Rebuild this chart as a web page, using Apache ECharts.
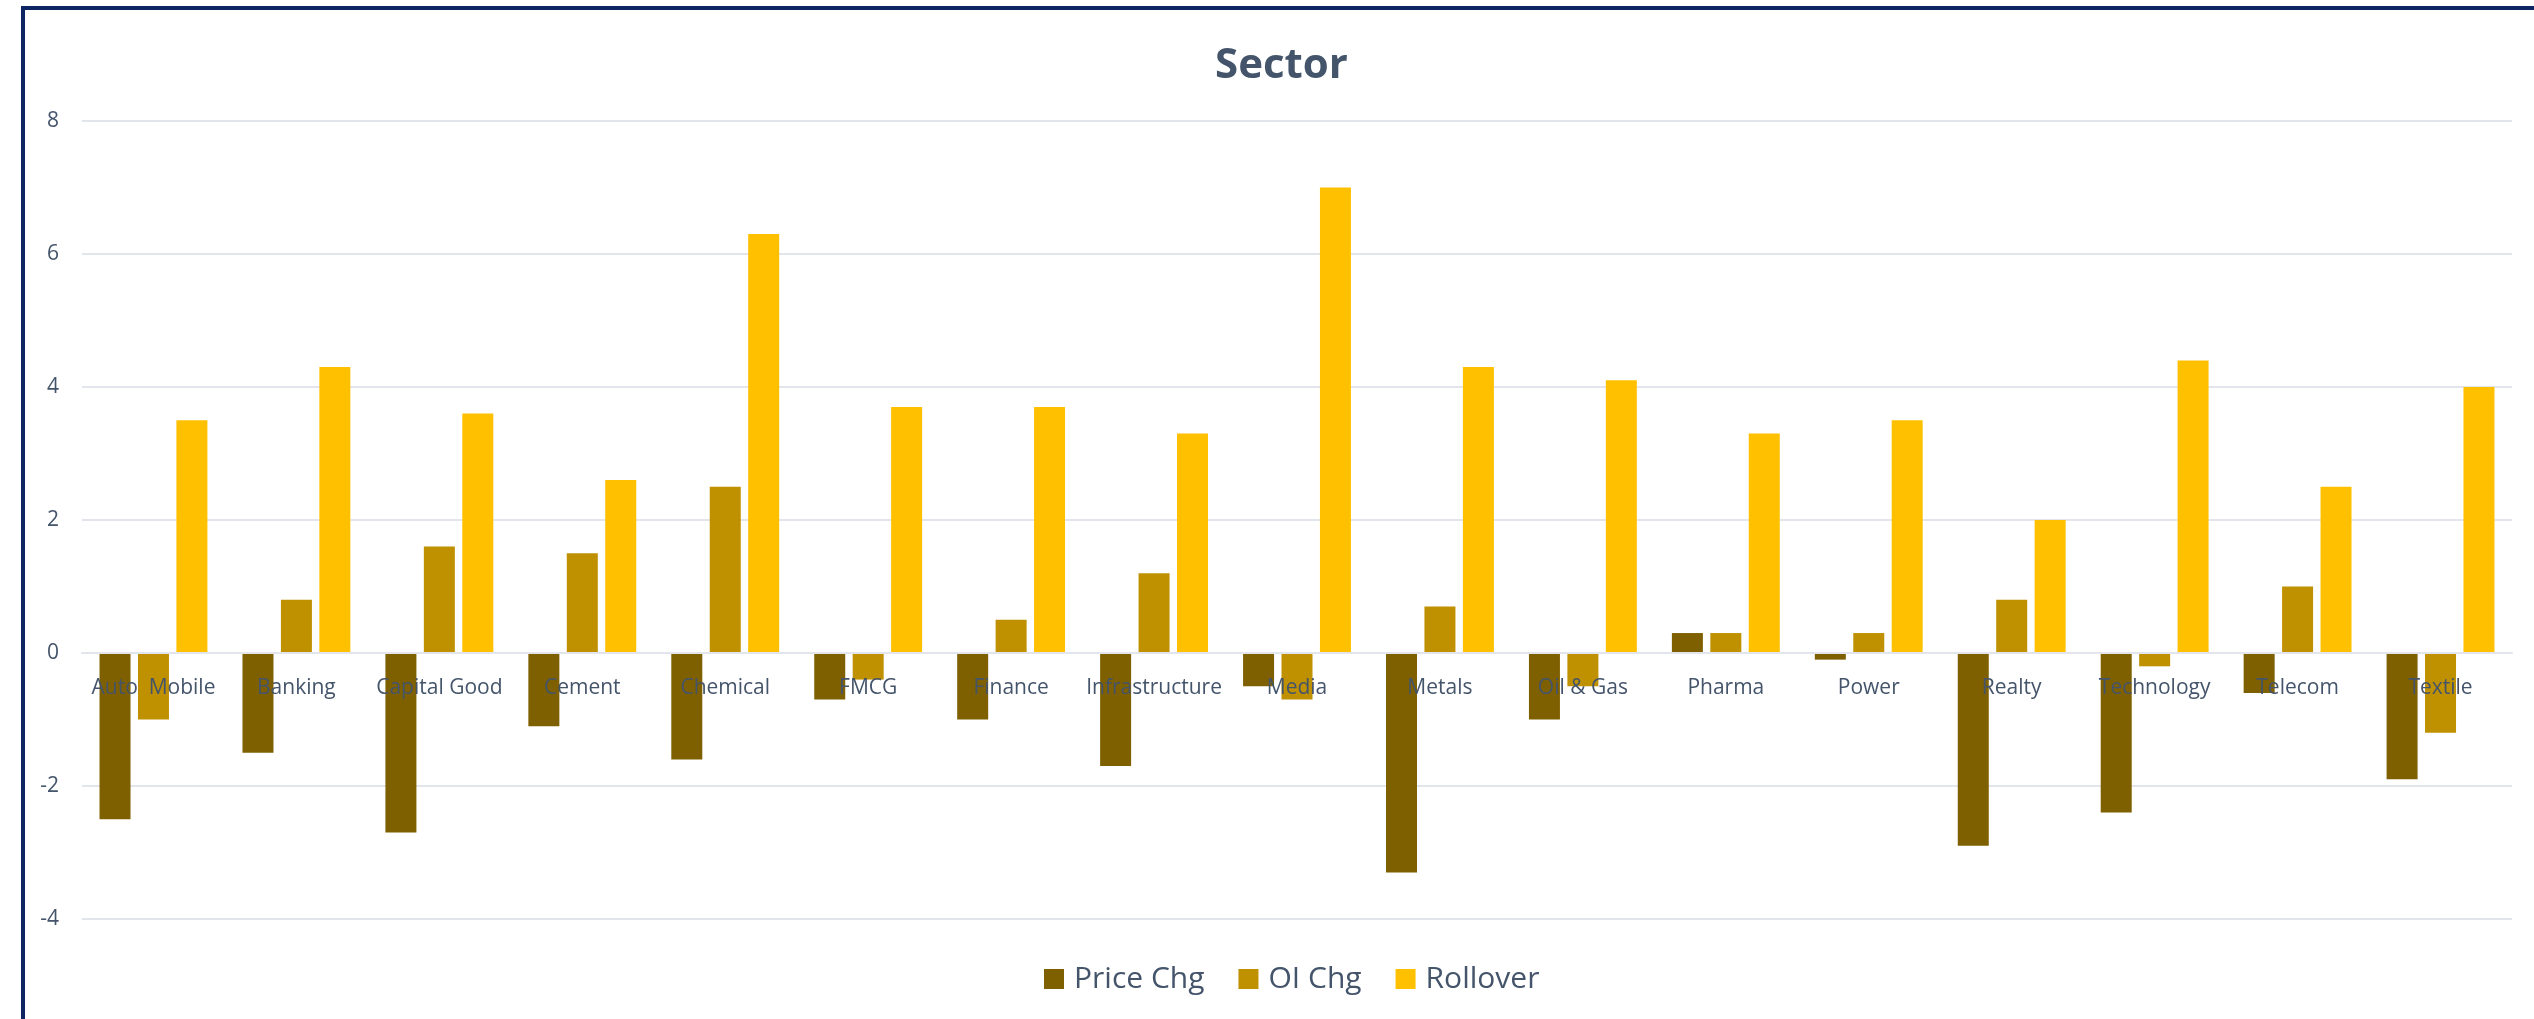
<!DOCTYPE html>
<html>
<head>
<meta charset="utf-8">
<title>Sector</title>
<script src="https://cdn.jsdelivr.net/npm/echarts@6/dist/echarts.min.js"></script>
<style>
  html, body { margin: 0; padding: 0; background: #fff; overflow: hidden; }
  .frame {
    position: absolute; left: 21px; top: 6px;
    width: 2600px; height: 1100px;
    border-left: 4px solid #0d2561; border-top: 4px solid #0d2561;
  }
  #chart { position: absolute; left: 0; top: 0; width: 2534px; height: 1019px; }
</style>
</head>
<body>
<div class="frame"></div>
<div id="chart"></div>
<script>
  // sectors
  const categories = ['Auto  Mobile', 'Banking', 'Capital Good', 'Cement', 'Chemical', 'FMCG', 'Finance',
    'Infrastructure', 'Media', 'Metals', 'Oil & Gas', 'Pharma', 'Power', 'Realty', 'Technology', 'Telecom', 'Textile']
  const priceChg = [-2.5, -1.5, -2.7, -1.1, -1.6, -0.7, -1.0, -1.7, -0.5, -3.3, -1.0, 0.3, -0.1, -2.9, -2.4, -0.6, -1.9]
  const oiChg = [-1.0, 0.8, 1.6, 1.5, 2.5, -0.4, 0.5, 1.2, -0.7, 0.7, -0.5, 0.3, 0.3, 0.8, -0.2, 1.0, -1.2]
  const rollover = [3.5, 4.3, 3.6, 2.6, 6.3, 3.7, 3.7, 3.3, 7.0, 4.3, 4.1, 3.3, 3.5, 2.0, 4.4, 2.5, 4.0]

  const textColor = '#44546a'
  const gridColor = '#e2e6ec'
  const font = '"Open Sans", sans-serif'

  const chart = echarts.init(document.getElementById('chart'))
  const option = {
    animation: false,
    backgroundColor: 'transparent',
    // the frame is cut off on the right, so title/legend sit a bit right of page centre
    title: {
      text: 'Sector',
      left: 1210,
      top: 40,
      textStyle: { color: textColor, fontSize: 42, fontWeight: 'bold', fontFamily: font }
    },
    legend: {
      bottom: 20,
      left: 1039,
      itemWidth: 20,
      itemHeight: 20,
      itemGap: 34,
      icon: 'rect',
      textStyle: { color: textColor, fontSize: 30, fontFamily: font, padding: [0, 0, 0, 5] }
    },
    grid: { left: 82, right: 22, top: 121, bottom: 100 },
    xAxis: {
      type: 'category',
      data: categories,
      z: 10,
      // sit the category axis on the zero line (-4..8 range, zero is 4/12 up from the bottom)
      offset: -266,
      axisTick: { show: false },
      axisLine: { onZero: false, lineStyle: { color: gridColor, width: 2 } },
      axisLabel: { interval: 0, margin: 25, color: textColor, fontSize: 21, fontFamily: font }
    },
    yAxis: {
      type: 'value',
      min: -4,
      max: 8,
      interval: 2,
      axisLabel: { margin: 23, color: textColor, fontSize: 21, fontFamily: font },
      splitLine: { lineStyle: { color: gridColor, width: 2 } }
    },
    series: [
      { name: 'Price Chg', type: 'bar', data: priceChg, itemStyle: { color: '#7f6000' },
        barWidth: 31, barGap: '24%' },
      { name: 'OI Chg', type: 'bar', data: oiChg, itemStyle: { color: '#bf9000' }, barWidth: 31, barGap: '24%' },
      { name: 'Rollover', type: 'bar', data: rollover, itemStyle: { color: '#ffc000' }, barWidth: 31, barGap: '24%' }
    ]
  }
  chart.setOption(option)
</script>
</body>
</html>
